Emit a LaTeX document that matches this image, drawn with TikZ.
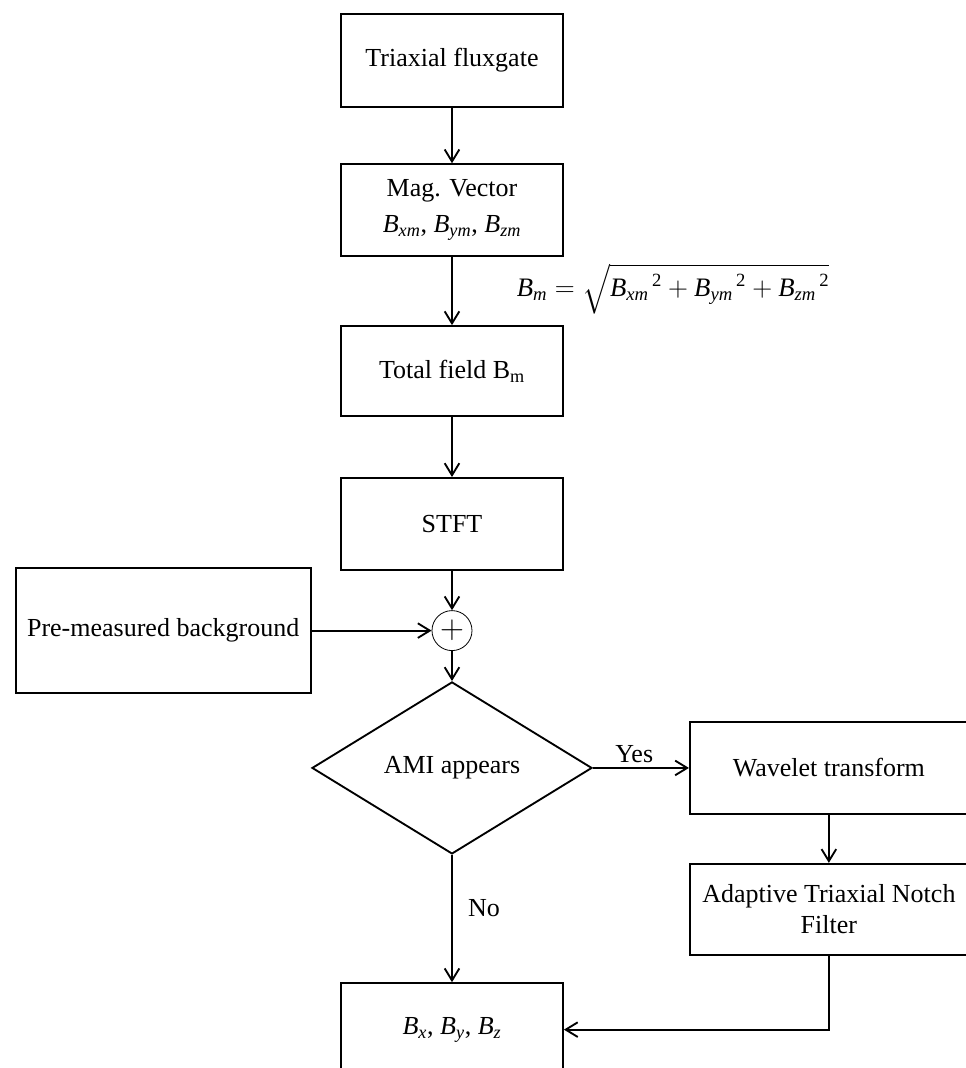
\documentclass[tikz,border=0pt]{standalone}
\usepackage{amsmath}
\usepackage{fontspec}
\setmainfont{Liberation Serif}
\usetikzlibrary{arrows.meta,positioning,shapes.geometric}

\newcommand{\Bsub}[1]{\textit{B}\textsubscript{\textit{#1}}}

\begin{document}
\begin{tikzpicture}[x=0.75pt,y=-0.75pt,>={Straight Barb[length=9pt,width=11pt]},
	line width=1.4pt,node distance=40pt,font=\fontsize{19.5}{23}\selectfont,
	blk/.style={draw,rectangle,minimum width=166.5pt,minimum height=69pt,align=center,inner sep=2pt},
	wideblk/.style={blk,minimum width=208.5pt},
	dec/.style={draw,diamond,minimum width=210pt,minimum height=129pt,inner sep=0pt,aspect=1.63},
	sumnode/.style={draw,circle,minimum size=30pt,inner sep=0pt,line width=0.6pt}]
	\useasboundingbox (0,0) rectangle (965,1068);
	\node[blk,minimum height=69.75pt] (tri) at (452,60.5) {Triaxial fluxgate};
	\node[blk] [below=41.5pt of tri] (mag) {Mag. Vector\\[4pt]\Bsub{xm}, \Bsub{ym}, \Bsub{zm}};
	\node[blk,minimum height=67.5pt] [below=51pt of mag] (total) {Total field B\textsubscript{m}};
	\node[blk] [below=45pt of total] (stft) {STFT};
	\node[sumnode] [below=29.5pt of stft] (sum) {\fontsize{28}{28}\selectfont$+$};
	\node[blk,minimum width=221.25pt,minimum height=93.75pt] [left=90pt of sum] (pre) {Pre-measured background};
	\node[dec] [below=22.5pt of sum] (ami) {AMI appears};
	\node[wideblk] [right=72pt of ami] (wave) {Wavelet transform};
	\node[wideblk,minimum height=68.25pt] [below=36pt of wave] (notch) {Adaptive Triaxial Notch\\Filter};
	\node[blk,minimum height=69.75pt] [below=95.5pt of ami] (bxyz) {\Bsub{x}, \Bsub{y}, \Bsub{z}};
	\node[font=\fontsize{20}{24}\selectfont] (eqn) at (673,289)
		{$\textit{B}_{\textit{m}}=\sqrt{\vphantom{\textit{B}_{\textit{y}}^{2}}{\textit{B}_{\textit{xm}}}^{\,\textup{2}}+{\textit{B}_{\textit{ym}}}^{\,\textup{2}}+{\textit{B}_{\textit{zm}}}^{\,\textup{2}}}$};
	\path[->]
	(tri) edge (mag)
	(mag) edge (total)
	(total) edge (stft)
	(stft) edge (sum)
	(pre) edge (sum)
	(sum) edge (ami)
	(ami) edge node[above,pos=0.43] {Yes} (wave)
	(wave) edge (notch)
	(ami) edge node[right=8pt,pos=0.42] {No} (bxyz);
	\draw[->] (notch.south) |- (bxyz.east);
\end{tikzpicture}
\end{document}
